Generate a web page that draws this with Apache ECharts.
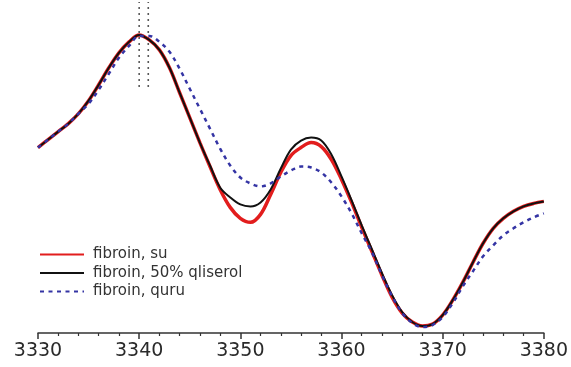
<!DOCTYPE html>
<html>
<head>
<meta charset="utf-8">
<script src="https://cdn.jsdelivr.net/npm/echarts@6/dist/echarts.min.js"></script>
<style>
  html, body { margin: 0; padding: 0; background: #fff; }
  #chart { width: 571px; height: 367px; }
</style>
</head>
<body>
<div id="chart"></div>
<script>
// magnetic field (G), one reading per gauss
const fieldX = [3330, 3331, 3332, 3333, 3334, 3335, 3336, 3337, 3338, 3339,
  3340, 3341, 3342, 3343, 3344, 3345, 3346, 3347, 3348, 3349,
  3350, 3351, 3352, 3353, 3354, 3355, 3356, 3357, 3358, 3359,
  3360, 3361, 3362, 3363, 3364, 3365, 3366, 3367, 3368, 3369,
  3370, 3371, 3372, 3373, 3374, 3375, 3376, 3377, 3378, 3379, 3380];

// signal, arbitrary units
const suY = [186, 194, 202, 210, 220, 233, 249, 266, 281, 292,
  299, 294, 284, 266, 241, 216, 191, 167, 144, 126,
  115, 111, 119, 139, 161, 178, 186, 191, 187, 174,
  154, 131, 106, 82, 58, 36, 20, 11, 7, 9,
  18, 33, 51, 71, 90, 105, 115, 122, 127, 130, 132];

const glycerolY = [186, 194, 202, 210, 220, 233, 249, 266, 281, 292,
  299, 294, 284, 266, 241, 216, 191, 168, 146, 136,
  129, 127, 131, 144, 165, 184, 193, 196, 193, 179,
  157, 133, 108, 84, 60, 38, 21, 11, 7, 9,
  18, 33, 51, 71, 90, 105, 115, 122, 127, 130, 132];

const dryY = [186, 194, 202, 210, 220, 230, 244, 260, 276, 288,
  298, 298, 292, 282, 265, 245, 225, 205, 185, 168,
  156, 150, 147, 150, 157, 163, 167, 166, 161, 151,
  137, 120, 100, 81, 58, 37, 20, 10, 6, 8,
  16, 30, 47, 62, 77, 88, 98, 105, 111, 116, 120];

// dotted guide lines at the first maximum
const guideX = [3340.0, 3340.9];
const guideY = [247, 332];

const names = ["fibroin, su", "fibroin, 50% qliserol", "fibroin, quru"];

function pairs(xs, ys) {
  return xs.map((x, i) => [x, ys[i]]);
}

const chart = echarts.init(document.getElementById("chart"), null, { renderer: "canvas" });

const guides = guideX.map((x) => ({
  name: "guide",
  type: "line",
  data: [[x, guideY[0]], [x, guideY[1]]],
  symbol: "none",
  silent: true,
  lineStyle: { color: "#222", width: 1.6, type: [1.6, 4.4] },
  z: 1
}));

chart.setOption({
  animation: false,
  grid: { left: 38, right: 24, top: 0, bottom: 34 },
  legend: {
    data: names,
    orient: "vertical",
    left: 39,
    top: 247,
    padding: 0,
    itemWidth: 44,
    itemHeight: 12,
    itemGap: 3.5,
    itemStyle: { opacity: 0 },
    textStyle: { fontFamily: "DejaVu Sans", fontSize: 15, color: "#333", padding: [0, 0, 0, 4] }
  },
  xAxis: {
    type: "value",
    min: 3330,
    max: 3380,
    interval: 10,
    axisLine: { onZero: false, lineStyle: { color: "#333", width: 1.5 } },
    axisTick: { length: 6, lineStyle: { color: "#333", width: 1.5 } },
    minorTick: { show: true, splitNumber: 5, length: 3, lineStyle: { color: "#333", width: 1.2 } },
    splitLine: { show: false },
    axisLabel: {
      margin: 9,
      fontFamily: "DejaVu Sans",
      fontSize: 19,
      color: "#2a2a2a",
      formatter: (v) => String(v)
    }
  },
  yAxis: {
    type: "value",
    min: 0,
    max: 334,
    show: false
  },
  series: [
    ...guides,
    {
      name: names[0],
      type: "line",
      data: pairs(fieldX, suY),
      smooth: 0.35,
      symbol: "none",
      itemStyle: { color: "#e21d1d" },
      lineStyle: { color: "#e21d1d", width: 3.5 },
      z: 2
    },
    {
      name: names[1],
      type: "line",
      data: pairs(fieldX, glycerolY),
      smooth: 0.35,
      symbol: "none",
      itemStyle: { color: "#111" },
      lineStyle: { color: "#111", width: 2 },
      z: 3
    },
    {
      name: names[2],
      type: "line",
      data: pairs(fieldX, dryY),
      smooth: 0.35,
      symbol: "none",
      itemStyle: { color: "#3434a4" },
      lineStyle: { color: "#3434a4", width: 2.5, type: [4, 4.5] },
      z: 4
    }
  ]
});
</script>
</body>
</html>
